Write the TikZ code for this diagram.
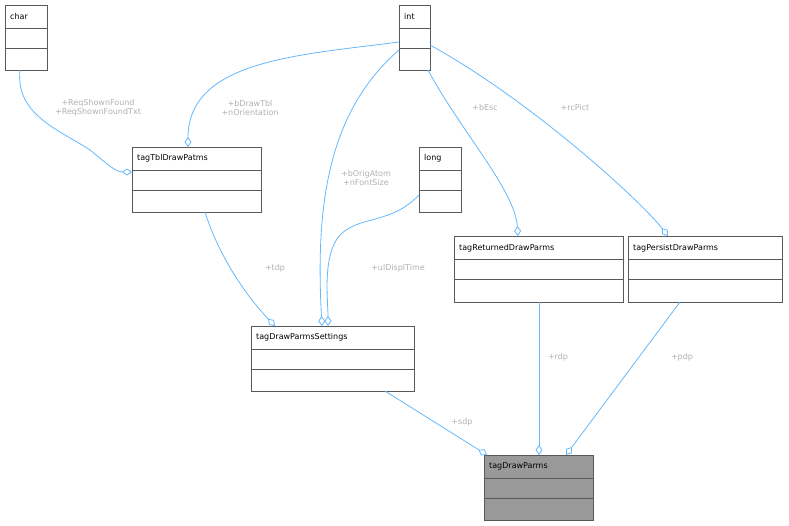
\documentclass[tikz,border=0pt]{standalone}
\usepackage{fontspec}
\setmainfont{DejaVu Sans}
\usetikzlibrary{arrows.meta}
\definecolor{edge}{HTML}{63B8FF}
\definecolor{lbl}{HTML}{B0B0B0}
\begin{document}
\begin{tikzpicture}[x=1pt,y=-1pt,
  box/.style={draw=black!65,fill=white,line width=0.8pt},
  ttl/.style={font=\fontsize{8}{9}\selectfont,anchor=west,inner sep=0pt},
  con/.style={draw=edge,line width=0.8pt,-{Diamond[open,length=10pt,width=7pt,fill=white]}},
  lab/.style={font=\fontsize{8}{9}\selectfont,text=lbl,align=center,inner sep=1pt}]
\useasboundingbox (0,0) rectangle (789,525);
\newcommand\umlbox[7]{% name, x1,y1,x2,y2, title, fill
  \path[box,fill=#7] (#2,#3) rectangle (#4,#5);
  \draw[black!65,line width=0.8pt] (#2,{#3+(#5-#3)*0.36}) -- (#4,{#3+(#5-#3)*0.36});
  \draw[black!65,line width=0.8pt] (#2,{#3+(#5-#3)*0.66}) -- (#4,{#3+(#5-#3)*0.66});
  \node[ttl] at ({#2+5},{#3+(#5-#3)*0.18}) {#6};
  \coordinate (#1) at (#2,#3);}
\umlbox{char}{5}{5}{47}{70}{char}{white}
\umlbox{int}{399}{5}{430}{70}{int}{white}
\umlbox{tbl}{132}{147}{261}{212}{tagTblDrawPatms}{white}
\umlbox{long}{419}{147}{461}{212}{long}{white}
\umlbox{ret}{454}{236}{623}{302}{tagReturnedDrawParms}{white}
\umlbox{per}{628}{236}{782}{302}{tagPersistDrawParms}{white}
\umlbox{set}{251}{326}{414}{391}{tagDrawParmsSettings}{white}
\umlbox{dp}{484}{455}{593}{520}{tagDrawParms}{black!40}
\coordinate (a1) at (20,70); \coordinate (b1) at (132,172);
\draw[con] (a1) .. controls (15,115) and (60,130) .. (90,150) .. controls (105,162) and (115,172) .. (b1);
\coordinate (a2) at (399,42); \coordinate (b2) at (188,147);
\draw[con] (a2) .. controls (300,55) and (188,60) .. (b2);
\coordinate (a3) at (399,50); \coordinate (b3) at (322,326);
\draw[con] (a3) .. controls (330,110) and (315,200) .. (b3);
\coordinate (a4) at (419,195); \coordinate (b4) at (328,326);
\draw[con] (a4) .. controls (390,225) and (360,215) .. (340,235) .. controls (322,255) and (328,300) .. (b4);
\coordinate (a5) at (428,70); \coordinate (b5) at (518,236);
\draw[con] (a5) .. controls (460,130) and (515,190) .. (b5);
\coordinate (a6) at (430,45); \coordinate (b6) at (668,236);
\draw[con] (a6) .. controls (530,100) and (640,200) .. (b6);
\coordinate (a7) at (205,212); \coordinate (b7) at (275,326);
\draw[con] (a7) .. controls (220,260) and (250,300) .. (b7);
\coordinate (a8) at (539,302); \coordinate (b8) at (539,455);
\draw[con] (a8) -- (b8);
\coordinate (a9) at (680,302); \coordinate (b9) at (566,455);
\draw[con] (a9) -- (b9);
\coordinate (a10) at (385,391); \coordinate (b10) at (487,455);
\draw[con] (a10) -- (b10);
\node[lab] (l1) at (98,108) {+ReqShownFound\\+ReqShownFoundTxt};
\node[lab] (l2) at (250,108) {+bDrawTbl\\+nOrientation};
\node[lab] (l3) at (366,178) {+bOrigAtom\\+nFontSize};
\node[lab] (l4) at (398,268) {+ulDisplTime};
\node[lab] (l5) at (485,108) {+bEsc};
\node[lab] (l6) at (575,108) {+rcPict};
\node[lab] (l7) at (275,268) {+tdp};
\node[lab] (l8) at (558,357) {+rdp};
\node[lab] (l9) at (682,357) {+pdp};
\node[lab] (l10) at (462,422) {+sdp};
\end{tikzpicture}
\end{document}
